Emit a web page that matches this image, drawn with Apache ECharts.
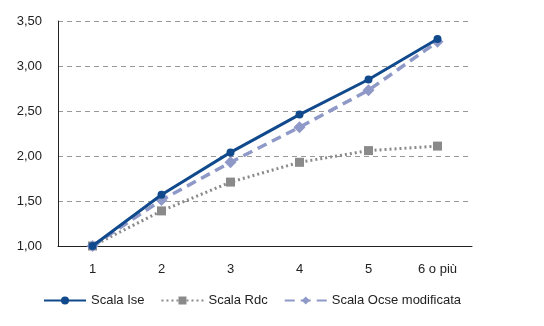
<!DOCTYPE html>
<html><head><meta charset="utf-8">
<script src="https://cdn.jsdelivr.net/npm/echarts@6/dist/echarts.min.js"></script>
<style>html,body{margin:0;padding:0;background:#fff}#c{width:544px;height:326px}</style>
</head><body><div id="c"></div>
<script>
const categories = ['1','2','3','4','5','6 o più'];
const scalaIse = [1.00, 1.57, 2.04, 2.46, 2.85, 3.30];
const scalaRdc = [1.00, 1.39, 1.71, 1.93, 2.06, 2.11];
const scalaOcse = [1.00, 1.51, 1.93, 2.32, 2.73, 3.27];
const seriesNames = ['Scala Ise', 'Scala Rdc', 'Scala Ocse modificata'];

const font = 'Liberation Sans';
const chart = echarts.init(document.getElementById('c'));
chart.setOption({
  animation: false,
  textStyle: {fontFamily: font},
  grid: {left: 58, right: 72, top: 21, bottom: 80},
  legend: {
    bottom: 14, left: 38, itemWidth: 42, itemHeight: 10, itemGap: 16,
    textStyle: {fontFamily: font, fontSize: 13, color: '#222'},
    data: seriesNames
  },
  xAxis: {
    type: 'category', data: categories, boundaryGap: true,
    axisLine: {lineStyle: {color: '#222', width: 1}},
    axisTick: {show: false},
    axisLabel: {color: '#222', fontSize: 13, margin: 17, fontFamily: font}
  },
  yAxis: {
    type: 'value', min: 1, max: 3.5, interval: 0.5,
    axisLine: {show: true, lineStyle: {color: '#222', width: 1}},
    axisTick: {show: false},
    axisLabel: {color: '#222', fontSize: 13, margin: 16, fontFamily: font,
      formatter: v => v.toFixed(2).replace('.', ',')},
    splitLine: {lineStyle: {color: '#999', type: [5, 4], width: 1}}
  },
  series: [
    {name: seriesNames[1], type: 'line', data: scalaRdc, symbol: 'rect', symbolSize: 9,
      lineStyle: {color: '#8a8a8a', width: 3, type: [2, 3]}, itemStyle: {color: '#8a8a8a'}, z: 2},
    {name: seriesNames[2], type: 'line', data: scalaOcse, symbol: 'diamond', symbolSize: 12,
      lineStyle: {color: '#8f99c8', width: 3.5, type: [10, 6]}, itemStyle: {color: '#8f99c8'}, z: 3},
    {name: seriesNames[0], type: 'line', data: scalaIse, symbol: 'circle', symbolSize: 8,
      lineStyle: {color: '#114a8c', width: 3}, itemStyle: {color: '#114a8c'}, z: 4}
  ]
});
</script></body></html>
